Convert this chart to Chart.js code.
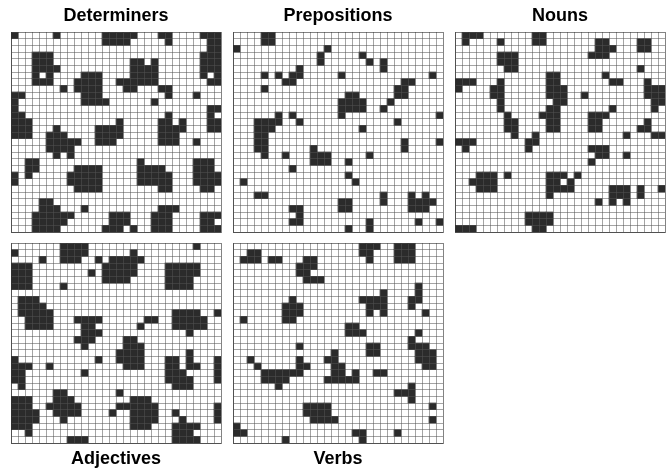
<!DOCTYPE html>
<html>
<head>
<meta charset="utf-8">
<script src="https://cdn.jsdelivr.net/npm/chart.js@4.4.1/dist/chart.umd.min.js"></script>
<style>
  body { margin: 0; background: #fff; width: 670px; height: 472px; position: relative; overflow: hidden; }
  .panel { position: absolute; width: 212px; }
  .top { top: 0; height: 233px; }
  .bottom { top: 242px; height: 230px; }
</style>
</head>
<body>
<div class="panel top" style="left:10px"><canvas id="determiners"></canvas></div>
<div class="panel top" style="left:232px"><canvas id="prepositions"></canvas></div>
<div class="panel top" style="left:454px"><canvas id="nouns"></canvas></div>
<div class="panel bottom" style="left:10px"><canvas id="adjectives"></canvas></div>
<div class="panel bottom" style="left:232px"><canvas id="verbs"></canvas></div>
<script>
// 30x30 maps; each row lists its dark columns ("a-b" is a run)
const gridSize = 30;
const columns = Array.from({ length: gridSize }, (_, i) => i);

const determiners = [
  '0 6 13-17 21-22 27-29', '13-16 22 28-29', '28-29', '3-5 27-29',
  '3-5 17-18 20 27-29', '3-6 17-20 27-29', '3 5 10-12 17-20 27 29', '3-5 9-12 15-20 28-29',
  '7 9-12 16-17 21-22', '0-1 10-12 22 26', '0 10-13 20', '0 28-29',
  '0-1 22 28', '0-2 15 21-22 24 28-29', '0-2 6 12-15 21-24 28-29', '0-2 5-7 12-15 21-23',
  '5-9 12-14 21-23 26', '5-8', '6 8', '2-3 18 26-28',
  '2-3 9-12 18-21 26-28', '0 2 8-12 18-22 26-29', '0 8-12 18-22 26-29', '9-12 21-22 27-28',
  '', '4-5', '4-6 10 21-23', '3-8 14-16 20-22 27-29',
  '3-7 14-16 20-22 27-28', '3-6 13-15 17 20-22 27-29'
];

const prepositions = [
  '4-5', '4-5', '0 13', '12 18',
  '12 19 21', '9 21', '4 6 8-9 15 28', '7-8 24-25',
  '4 23-24', '16-17 23-24', '15-18 22', '15-18 21',
  '6 8 15 29', '3-6 9 23', '3-5 18', '3-4',
  '3-4 24 29', '3-4 11 24', '4 7 11-13 19', '11-13 16',
  '8', '16', '1 17', '',
  '3-4 21 25 27', '15-16 21 25-28', '8-9 15-16 25-27', '9',
  '8-9 19 26 29', '16 19'
];

const nouns = [
  '1-3 11-12', '1 6 11-12 20-21 26-27', '20-22 26-27', '6-8 19-21',
  '6-8', '7-8 26', '13-14 21', '0-2 6 13-14 22-23 27',
  '0 5-6 13-15 27-29', '5-6 13-15 18 27-29', '6 14-15 28-29', '6 13-14 22 28',
  '7 12-14 19-21', '7-8 13-14 19-20 27', '7-8 13-14 19-20 26-27', '8 11 24 28-29',
  '0-2 10-11', '1 10 19-21', '20-21 24', '19',
  '', '3-5 7 13-15 17', '2-5 13-14 16', '3-5 13-16 22-24 26 29',
  '13 22-24 26', '20 22 24', '', '10-13',
  '10-13', '0-2 11-12'
];

const adjectives = [
  '7-10 26', '0 7-10 17', '4 7-9 12 14-18', '0-2 13-17 22-26',
  '0-2 11 13-17 22-26', '0-2 13-16 22-25', '0-2 7 22-25', '',
  '1-3', '1-4', '1-5 23-26 29', '2-5 9-12 19-20 23-27',
  '2-5 10-11 18 23-27', '10-12 25', '9-11 16-17', '10 16-18',
  '15-18 25', '0 12 15-18 22-23 25 29', '0-2 5 16-18 22-23 25-26 29', '0-1 10 22-24 29',
  '0-1 22-25 29', '1 23-25', '6-7 15', '0-2 6-8 17-19',
  '0-2 5-9 15-20 29', '0-3 6-9 14 17-20 23 29', '0-3 7 17-20 24 29', '0-2 17-19 23-26',
  '2 23-25', '8-10 23-26'
];

const verbs = [
  '18-20 23-25', '2-3 18-19 23-25', '1-3 5-6 10-11 19 23-25', '9-11',
  '9-10', '10-12', '26', '21 26',
  '8 18-21 25-26', '7-9 19-21 25', '7-9 19 21 27', '1 7-8',
  '16-17', '16-18 26', '25', '9 19-20 25-27',
  '14 19-20 26-28', '2 9 13-14 26-28', '3 9-10 14-15 27-28', '4-9 14-15 17 20-21',
  '4-7 13-17', '6 25', '23-25', '25',
  '10-13 28', '10-13', '11-14 28', '0',
  '0-1 17-18 23', '7 18'
];

const cellColor = '#2b2b2b';
// grid is drawn over the cells, so the lines stay faintly visible on dark squares
const lineColor = 'rgba(83, 83, 83, 0.53)';
const edgeColor = 'rgba(48, 48, 48, 0.6)';

function parseRow(text) {
  const dark = new Set();
  text.split(/\s+/).filter(Boolean).forEach(part => {
    const [a, b] = part.split('-').map(Number);
    for (let c = a; c <= (isNaN(b) ? a : b); c++) dark.add(c);
  });
  return dark;
}

function gridColor(ctx) {
  const i = ctx.index;
  return (i === undefined || i === 0 || i === gridSize) ? edgeColor : lineColor;
}

function makeMap(id, title, rows, below) {
  // one floating-bar dataset per row, each bar spans [row, row + 1]
  const datasets = rows.map((row, r) => {
    const dark = parseRow(row);
    return {
      data: columns.map(c => dark.has(c) ? [r, r + 1] : null),
      backgroundColor: cellColor,
      grouped: false,
      barPercentage: 1,
      categoryPercentage: 1
    };
  });

  new Chart(document.getElementById(id), {
    type: 'bar',
    data: { labels: columns, datasets: datasets },
    options: {
      responsive: true,
      maintainAspectRatio: false,
      animation: false,
      events: [],
      layout: {
        padding: below ? { top: 1, left: 1, right: 1, bottom: 0 } : { top: 0, left: 1, right: 1, bottom: 1 }
      },
      plugins: {
        legend: { display: false },
        tooltip: { enabled: false },
        title: {
          display: true,
          text: title,
          position: below ? 'bottom' : 'top',
          color: '#000',
          font: { family: "'Liberation Sans', Arial, sans-serif", size: 18, weight: 'bold' },
          padding: below ? { top: 5, bottom: 2.4 } : { top: 5, bottom: 5.4 }
        }
      },
      scales: {
        x: {
          offset: true,
          grid: { color: gridColor, drawTicks: false, offset: true, z: 1 },
          border: { color: edgeColor, z: 1 },
          ticks: { display: false }
        },
        y: {
          min: 0,
          max: gridSize,
          reverse: true,
          grid: { color: gridColor, drawTicks: false, z: 1 },
          border: { color: edgeColor, z: 1 },
          ticks: { display: false, stepSize: 1 }
        }
      }
    }
  });
}

makeMap('determiners', 'Determiners', determiners, false);
makeMap('prepositions', 'Prepositions', prepositions, false);
makeMap('nouns', 'Nouns', nouns, false);
makeMap('adjectives', 'Adjectives', adjectives, true);
makeMap('verbs', 'Verbs', verbs, true);
</script>
</body>
</html>
